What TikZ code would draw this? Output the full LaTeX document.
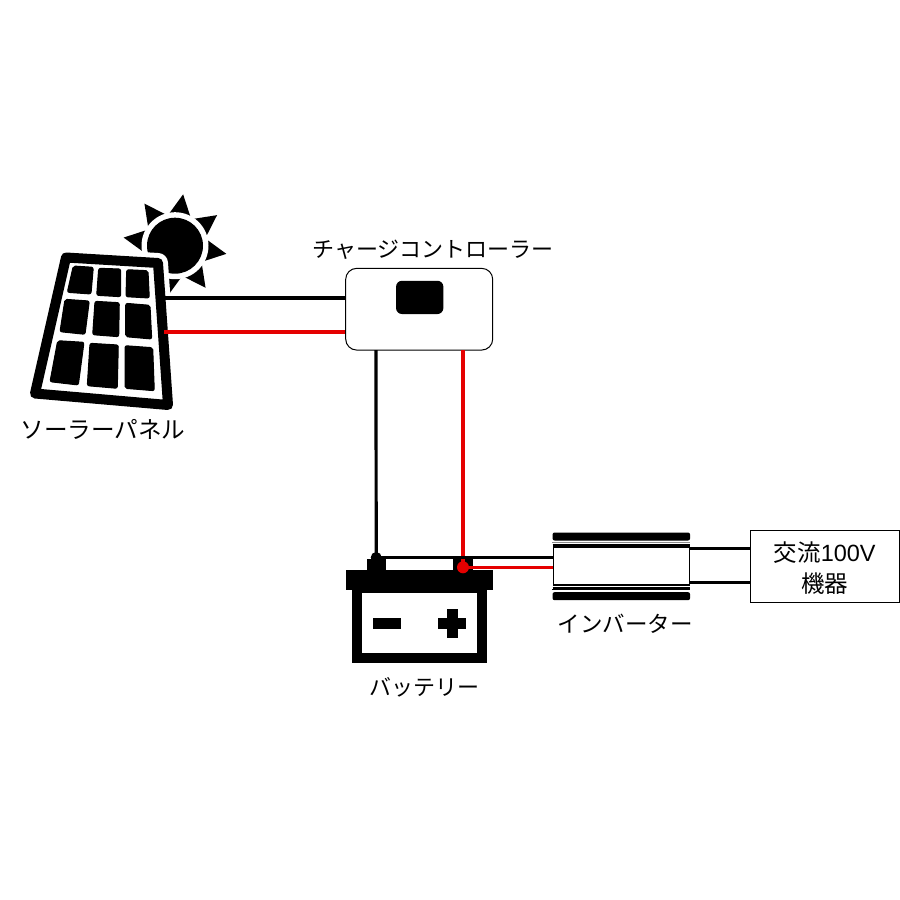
\documentclass[tikz,border=0pt]{standalone}
\usepackage{fontspec}
\setmainfont{Liberation Sans}
\newfontfamily\cjk{Noto Sans CJK JP}
\usetikzlibrary{calc}
\tikzset{
  wire/.style={line width=3.2pt,line cap=butt},
  blackwire/.style={wire,black},
  redwire/.style={wire,red!90!black},
  cell/.style={fill=black,draw=black,line width=1pt,rounded corners=2pt,line join=round},
  solidblock/.style={fill=black,draw=none,inner sep=0pt},
  caption/.style={font=\cjk\fontsize{22.5}{26}\selectfont,inner sep=0pt},
}
\begin{document}
\begin{tikzpicture}[x=1pt,y=-1pt]
\useasboundingbox (0,0) rectangle (900,900);
% sun
\foreach \ang in {9,54,...,354} {
  \fill ($(175,245.7)+(\ang:52)$) -- ($(175,245.7)+(\ang+25:30)$) -- ($(175,245.7)+(\ang-25:30)$) -- cycle;
}
\fill[white] (175,245.7) circle (33.5);
\fill[black] (175,245.7) circle (28);
% panel
\coordinate (pa) at (66,257.5);
\coordinate (pb) at (158,263);
\coordinate (pc) at (168,405);
\coordinate (pd) at (35,393.5);
\draw[white,fill=white,line width=20pt,line join=round] (pa) -- (pb) -- (pc) -- (pd) -- cycle;
\draw[black,fill=white,line width=10pt,line join=round] (pa) -- (pb) -- (pc) -- (pd) -- cycle;
\draw[cell] (73.3,266) -- (93.3,267.3) -- (91,294) -- (67.3,292.3) -- cycle;
\draw[cell] (98.7,268.3) -- (120.7,269) -- (120.7,296.7) -- (96.7,295.3) -- cycle;
\draw[cell] (126.7,269.7) -- (148,270.7) -- (149.3,298) -- (126,296.7) -- cycle;
\draw[cell] (65,299.3) -- (89.3,301) -- (85,334.3) -- (60,331.7) -- cycle;
\draw[cell] (95,301.3) -- (119.3,302.7) -- (118.7,336.7) -- (92.7,334.7) -- cycle;
\draw[cell] (125.7,303.3) -- (150,305.3) -- (151.7,339) -- (125.7,336.7) -- cycle;
\draw[cell] (57.7,340.7) -- (84,342.3) -- (78.3,385) -- (50,381.7) -- cycle;
\draw[cell] (90,343.3) -- (118.3,345) -- (117.3,388.3) -- (87.3,385.7) -- cycle;
\draw[cell] (125,345.7) -- (152.7,347.7) -- (154.3,390.7) -- (125,388.3) -- cycle;
\node[caption,font=\cjk\fontsize{23.6}{26}\selectfont] (panellabel) at (103,429.5) {ソーラーパネル};
% charge controller
\node[draw=black,line width=1pt,fill=white,rounded corners=11pt,minimum width=147pt,minimum height=81.7pt,inner sep=0pt] (ctrl) at (419.2,309.2) {};
\node[solidblock,rounded corners=6pt,minimum width=47.3pt,minimum height=33.3pt] (display) at (419.7,297.4) {};
\node[caption,font=\cjk\fontsize{22}{26}\selectfont] (ctrllabel) at (433,249.5) {チャージコントローラー};
\coordinate (panelblack) at (165,298);
\coordinate (panelred) at (164,332);
\draw[blackwire] (panelblack) -- (panelblack -| ctrl.west);
\draw[redwire] (panelred) -- (panelred -| ctrl.west);
% battery
\node[solidblock,minimum width=19pt,minimum height=11pt] (minusterm) at (376.2,564.5) {};
\node[solidblock,minimum width=19.4pt,minimum height=11pt] (plusterm) at (463,564.5) {};
\node[solidblock,minimum width=147.6pt,minimum height=20pt] (battop) at (419.5,580) {};
\node[draw=black,line width=10pt,fill=white,minimum width=125.6pt,minimum height=70pt,inner sep=0pt] (batbody) at (419.5,623.3) {};
\node[solidblock,minimum width=28.3pt,minimum height=10.7pt] (minussign) at (386.8,623.7) {};
\node[solidblock,minimum width=27.7pt,minimum height=10.7pt] (plush) at (452.2,623.7) {};
\node[solidblock,minimum width=11pt,minimum height=28.4pt] (plusv) at (452.2,623.5) {};
\node[caption,font=\cjk\fontsize{22}{26}\selectfont] (batlabel) at (424,687.5) {バッテリー};
\node[circle,fill=black,inner sep=0pt,minimum size=11pt] (minusdot) at (376.2,557.5) {};
\node[circle,fill=red!90!black,inner sep=0pt,minimum size=12pt] (plusdot) at (463,567.3) {};
% inverter
\node[solidblock,rounded corners=2pt,minimum width=137.5pt,minimum height=8pt] (invtop) at (621.3,536.5) {};
\node[solidblock,rounded corners=2pt,minimum width=137.5pt,minimum height=8pt] (invbot) at (621.3,596.2) {};
\node[draw=black,line width=1.6pt,fill=white,minimum width=136pt,minimum height=38.5pt,inner sep=0pt] (inv) at (621.3,566) {};
\draw[black!45,line width=1.2pt] (invtop.south west) ++(0,1.6) coordinate (itl) -- (itl -| invtop.east);
\draw[black,line width=2.4pt] (inv.north west) ++(0,-0.9) coordinate (itm) -- (itm -| inv.east);
\draw[black,line width=2pt] (inv.south west) ++(0,2) coordinate (ibl) -- (ibl -| inv.east);
\draw[black,line width=1.2pt] (invbot.north west) ++(0,-2.6) coordinate (ibm) -- (ibm -| invbot.east);
\node[caption] (invlabel) at (625,623.5) {インバーター};
% ac load
\node[draw=black,line width=1pt,fill=white,minimum width=149.3pt,minimum height=72pt,inner sep=0pt] (load) at (824.7,566.7) {};
\node[caption,align=center,font=\fontsize{23.5}{31}\selectfont] (loadlabel) at ($(load)+(0,1)$) {{\cjk 交流}100V\\{\cjk 機器}};
% wires
\coordinate (ctrlblack) at (376,350);
\coordinate (ctrlred) at (463,350);
\draw[blackwire] (ctrlblack) -- (minusdot.center);
\draw[redwire] (ctrlred) -- (plusdot.center);
\draw[blackwire] (minusdot.center) -- (minusdot -| inv.west);
\draw[redwire] (plusdot.center) -- (plusdot -| inv.west);
\coordinate (acup) at (690,548.3);
\coordinate (acdown) at (690,582.7);
\draw[blackwire] (acup) -- (acup -| load.west);
\draw[blackwire] (acdown) -- (acdown -| load.west);
\end{tikzpicture}
\end{document}
